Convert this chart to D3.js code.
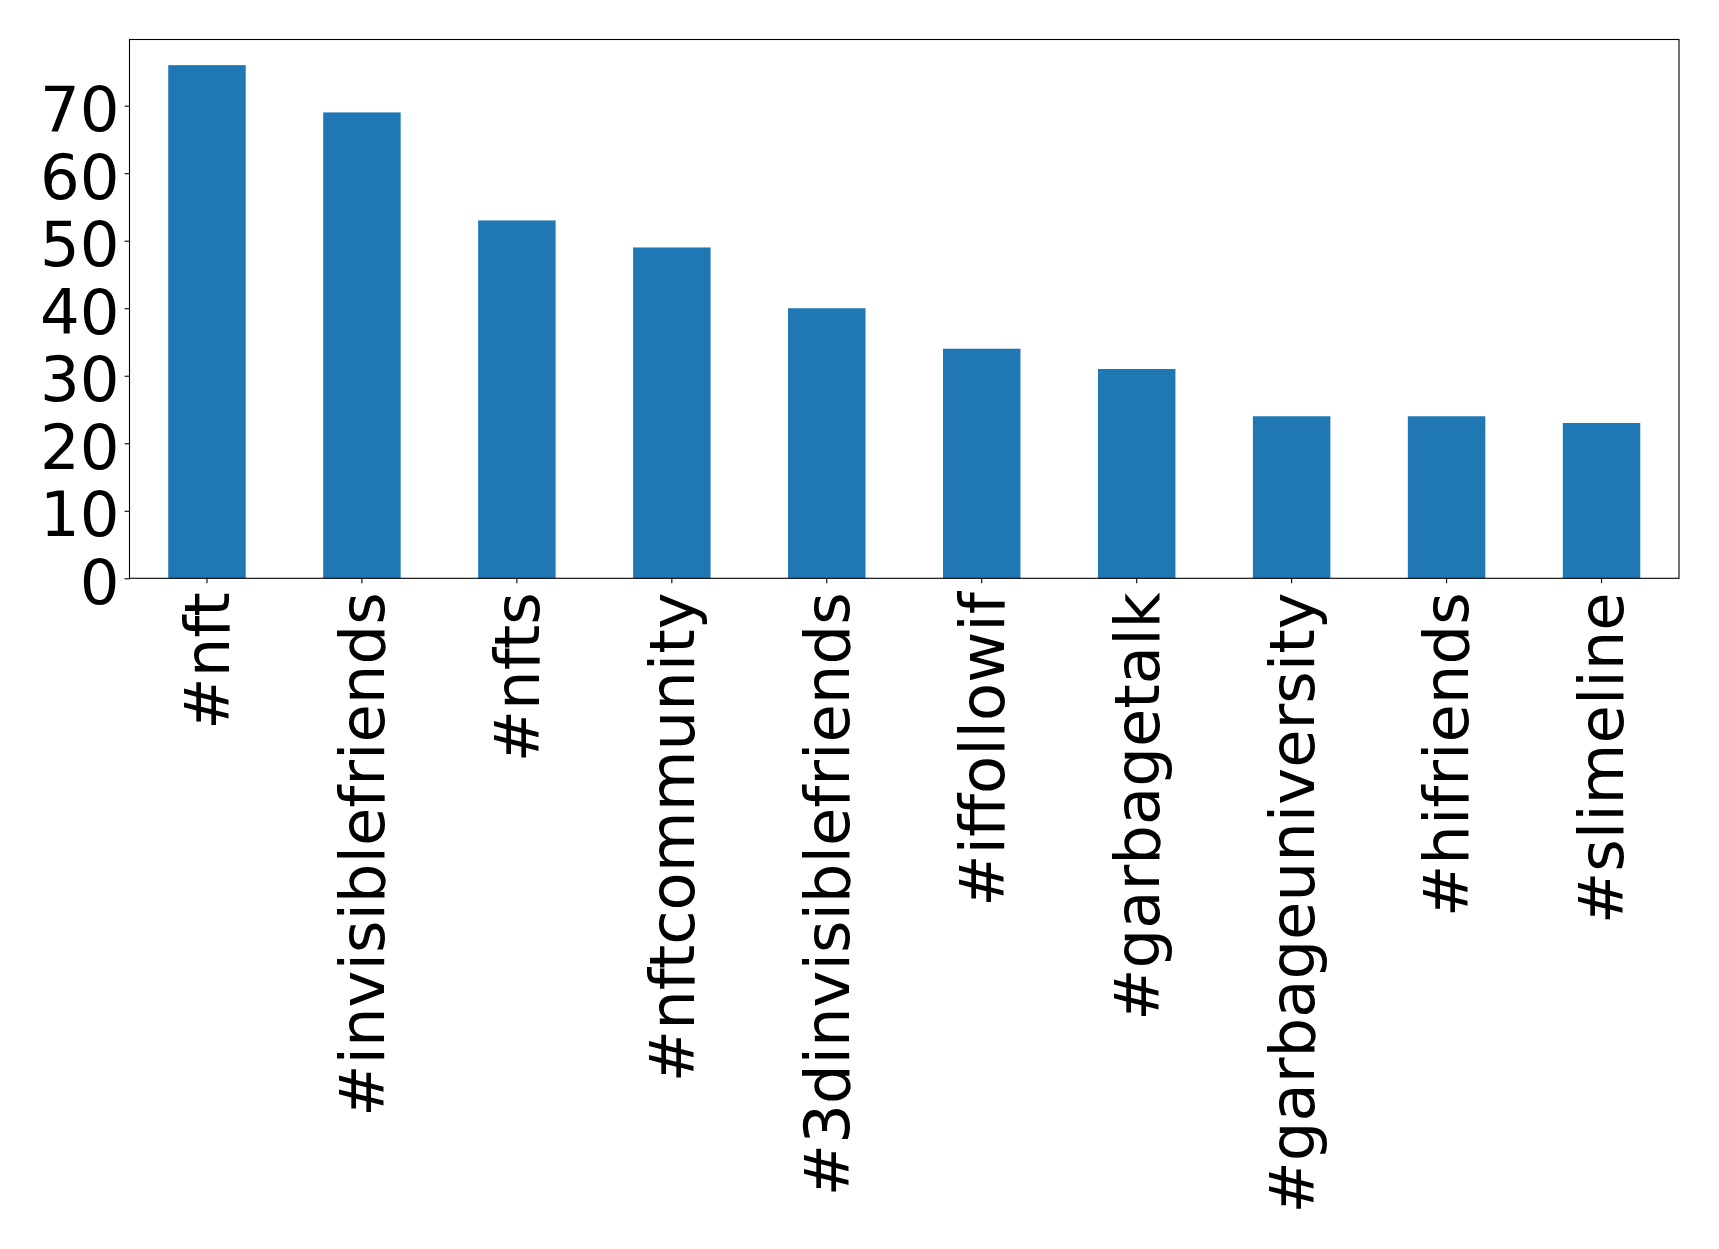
<!DOCTYPE html>
<html>
<head>
<meta charset="utf-8">
<script src="https://cdn.jsdelivr.net/npm/d3@7"></script>
<style>
  html, body { margin: 0; padding: 0; background: #fff; }
  svg { display: block; }
  text { font-family: "DejaVu Sans", sans-serif; fill: #000; }
</style>
</head>
<body>
<svg id="chart" width="1719" height="1249"></svg>
<script>
const categories = ["#nft", "#invisiblefriends", "#nfts", "#nftcommunity", "#3dinvisiblefriends",
  "#iffollowif", "#garbagetalk", "#garbageuniversity", "#hifriends", "#slimeline"];
const counts = [76, 69, 53, 49, 40, 34, 31, 24, 24, 23];
const yTicks = [0, 10, 20, 30, 40, 50, 60, 70];

(function () {
const W = 1719, H = 1249;
const mLeft = 129.5, mRight = 1679, mTop = 39.5, mBottom = 578.3;
const fontSize = 62.5;
const barColor = "#1f77b4";

const svg = d3.select("#chart");
svg.append("rect").attr("width", W).attr("height", H).attr("fill", "#fff");

const x = d3.scaleBand().domain(categories).range([mLeft, mRight]).paddingInner(0.5).paddingOuter(0.25);
const yMax = d3.max(counts) * 1.05;
const y = d3.scaleLinear().domain([0, yMax]).range([mBottom, mTop]);

svg.append("g").selectAll("rect").data(categories).join("rect")
  .attr("x", d => x(d))
  .attr("width", x.bandwidth())
  .attr("y", (d, i) => y(counts[i]))
  .attr("height", (d, i) => y(0) - y(counts[i]))
  .attr("fill", barColor);

// y axis
const yAxis = d3.axisLeft(y).tickValues(yTicks).tickSize(4.9).tickPadding(5).tickFormat(d3.format("d"));
const gy = svg.append("g").attr("transform", `translate(${mLeft},0)`).call(yAxis);
gy.select(".domain").remove();
gy.selectAll("line").attr("stroke", "#000").attr("stroke-width", 1.1);
gy.selectAll("text").attr("font-size", fontSize).attr("font-family", "DejaVu Sans").attr("dy", "0.4em").attr("fill", "#000");

// x axis
const xAxis = d3.axisBottom(x).tickSize(4.9).tickPadding(0);
const gx = svg.append("g").attr("transform", `translate(0,${mBottom})`).call(xAxis);
gx.select(".domain").remove();
gx.selectAll("line").attr("stroke", "#000").attr("stroke-width", 1.1);
gx.selectAll("text")
  .attr("font-size", fontSize).attr("font-family", "DejaVu Sans").attr("fill", "#000")
  .attr("text-anchor", "end")
  .attr("y", 0).attr("x", 0)
  .attr("dy", "0.35em")
  .attr("transform", "translate(0,14) rotate(-90)");

// frame
svg.append("rect").attr("x", mLeft).attr("y", mTop).attr("width", mRight - mLeft).attr("height", mBottom - mTop)
  .attr("fill", "none").attr("stroke", "#000").attr("stroke-width", 1.1);
})();
</script>
</body>
</html>
